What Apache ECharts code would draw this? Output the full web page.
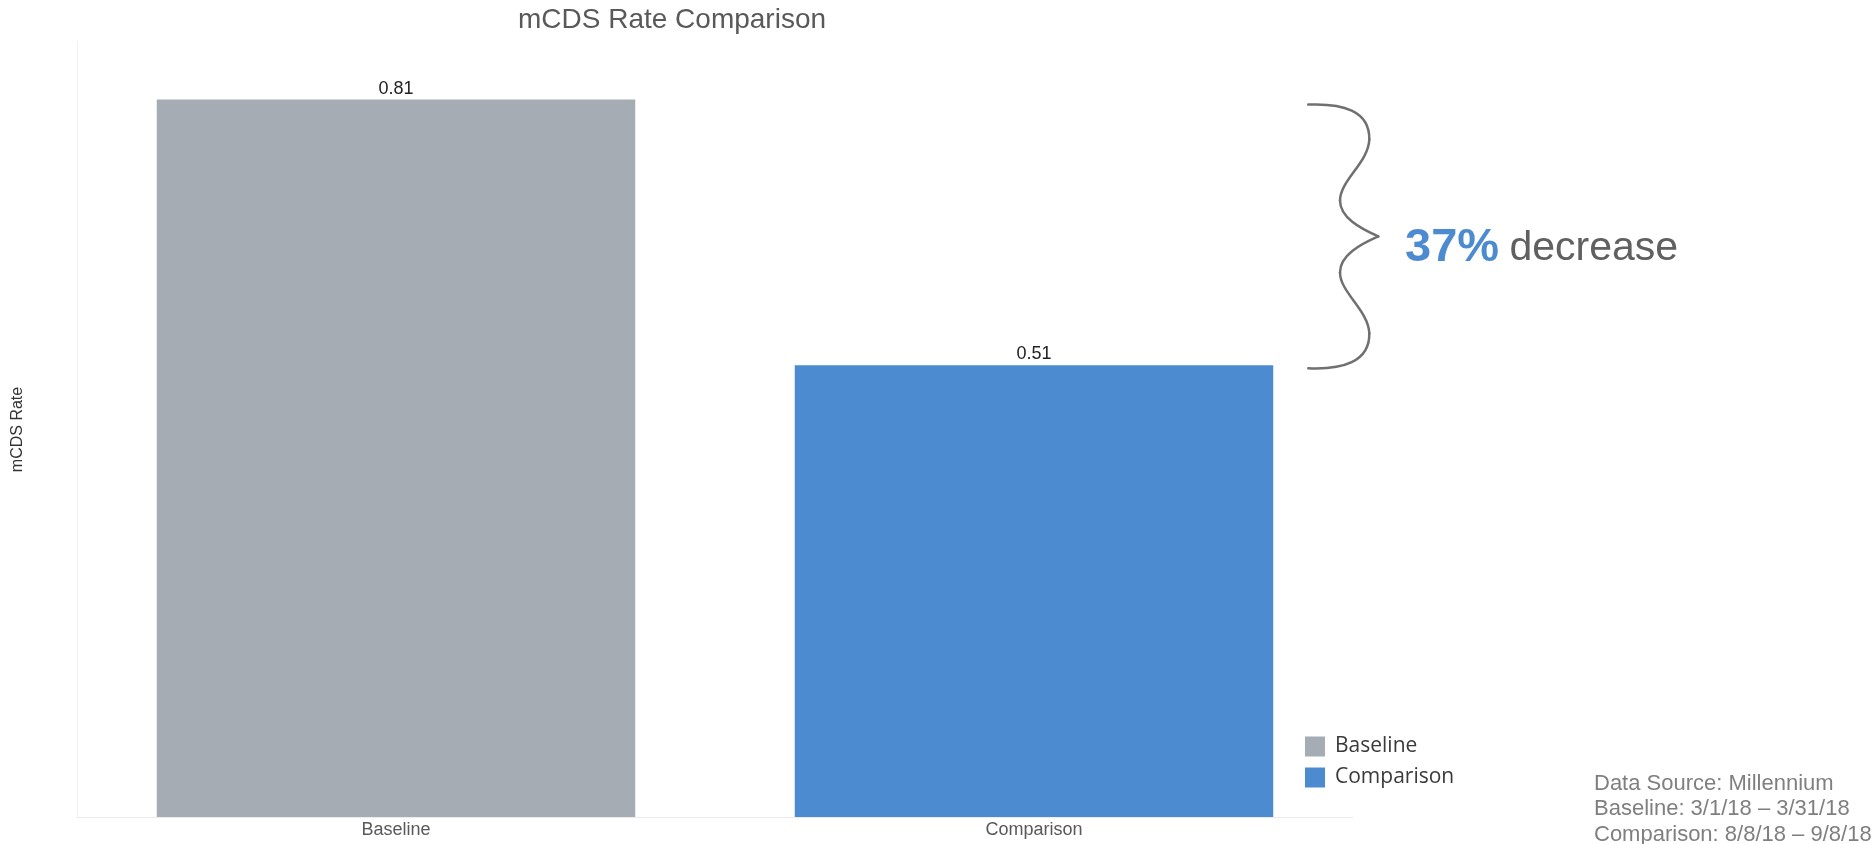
<!DOCTYPE html>
<html>
<head>
<meta charset="utf-8">
<script src="https://cdn.jsdelivr.net/npm/echarts@6/dist/echarts.min.js"></script>
<style>
html,body{margin:0;padding:0;background:#fff;}
#chart{width:1875px;height:844px;}
</style>
</head>
<body>
<div id="chart"></div>
<script>
// ---- data ----
const categories = ['Baseline', 'Comparison'];
const baselineValues = [0.81, null];
const comparisonValues = [null, 0.51];
const seriesNames = ['Baseline', 'Comparison'];
const titleText = 'mCDS Rate Comparison';
const yAxisName = 'mCDS Rate';
const changePct = '37%';
const changeWord = 'decrease';
const sourceLines = ['Data Source: Millennium', 'Baseline: 3/1/18 \u2013 3/31/18', 'Comparison: 8/8/18 \u2013 9/8/18'];

const FONT = '"Liberation Sans", Arial, sans-serif';
const GRAY = '#A6ACB3';
const BLUE = '#4D8BD1';

const chart = echarts.init(document.getElementById('chart'), null, {renderer: 'canvas'});

const labelCfg = {
  show: true, position: 'top', distance: 2,
  fontFamily: FONT, fontSize: 18, color: '#222',
  formatter: p => p.value == null ? '' : p.value.toFixed(2)
};

const option = {
  animation: false,
  backgroundColor: '#fff',
  title: {
    text: titleText,
    left: 672, top: 6, textAlign: 'center', padding: 0,
    textStyle: {fontFamily: FONT, fontSize: 28, fontWeight: 'normal', color: '#595959'}
  },
  legend: {
    orient: 'vertical', left: 1305, top: 736,
    icon: 'rect', itemWidth: 20, itemHeight: 20, itemGap: 10, padding: 0,
    data: seriesNames,
    textStyle: {fontFamily: '"Open Sans", sans-serif', fontSize: 21, color: '#3a3a3a', padding: [0, 0, 0, 5]}
  },
  grid: {left: 77, right: 522, top: 42, bottom: 27, containLabel: false, outerBoundsMode: 'none'},
  xAxis: {
    type: 'category', data: categories,
    axisLine: {show: true, lineStyle: {color: '#ebebeb', width: 1}},
    axisTick: {show: false},
    axisLabel: {fontFamily: FONT, fontSize: 18, color: '#595959', margin: 4}
  },
  yAxis: {
    type: 'value', min: 0, max: 0.875,
    name: yAxisName, nameLocation: 'middle', nameGap: 51, nameRotate: 90,
    nameTextStyle: {fontFamily: FONT, fontSize: 16, color: '#333'},
    axisLine: {show: true, lineStyle: {color: '#f0f0f0', width: 1}},
    axisTick: {show: false}, axisLabel: {show: false}, splitLine: {show: false}
  },
  series: [
    {name: seriesNames[0], type: 'bar', data: baselineValues, barGap: '-100%', barCategoryGap: '25%',
     itemStyle: {color: GRAY}, label: labelCfg},
    {name: seriesNames[1], type: 'bar', data: comparisonValues, barGap: '-100%', barCategoryGap: '25%',
     itemStyle: {color: BLUE}, label: labelCfg}
  ]
};
chart.setOption(option);

// brace annotation tied to bar tops
const yTop = chart.convertToPixel({yAxisIndex: 0}, baselineValues[0]) + 5;
const yBot = chart.convertToPixel({yAxisIndex: 0}, comparisonValues[1]) + 3;
const H = yBot - yTop;
const s = H / 264;
const X0 = 1280;
function px(x) { return X0 + x; }
function py(y) { return yTop + y * s; }
// cubic segments: [start, cp1, cp2, end]
const braceSegs = [
  [[28.3, 0], [62, -1.5], [90, 6], [89.3, 35]],
  [[89.3, 35], [88.5, 58], [60, 76], [60, 96]],
  [[60, 96], [60, 113], [80, 124], [98.3, 132]],
  [[98.3, 132], [80, 140], [60, 151], [60, 168]],
  [[60, 168], [60, 188], [88.5, 206], [89.3, 229]],
  [[89.3, 229], [90, 258], [62, 265.5], [28.3, 264]]
];
const braceGraphics = braceSegs.map(sg => ({
  type: 'bezierCurve',
  shape: {
    x1: px(sg[0][0]), y1: py(sg[0][1]),
    cpx1: px(sg[1][0]), cpy1: py(sg[1][1]),
    cpx2: px(sg[2][0]), cpy2: py(sg[2][1]),
    x2: px(sg[3][0]), y2: py(sg[3][1])
  },
  style: {fill: null, stroke: '#707070', lineWidth: 2.5, lineCap: 'round'}
}));

chart.setOption({
  graphic: braceGraphics.concat([
    {
      type: 'text', x: 1405, y: yTop + H / 2 + 12,
      style: {
        text: '{a|' + changePct + '} {b|' + changeWord + '}',
        verticalAlign: 'middle', align: 'left',
        rich: {
          a: {fontFamily: FONT, fontSize: 47, fontWeight: 'bold', fill: BLUE, padding: [0, 7, 0, 0]},
          b: {fontFamily: FONT, fontSize: 41, fill: '#606060'}
        }
      }
    },
    {
      type: 'text', x: 1594, y: 771,
      style: {
        text: sourceLines.join('\n'),
        fontFamily: FONT, fontSize: 22, lineHeight: 25.5, fill: '#7f7f7f',
        align: 'left', verticalAlign: 'top'
      }
    }
  ])
});
</script>
</body>
</html>
